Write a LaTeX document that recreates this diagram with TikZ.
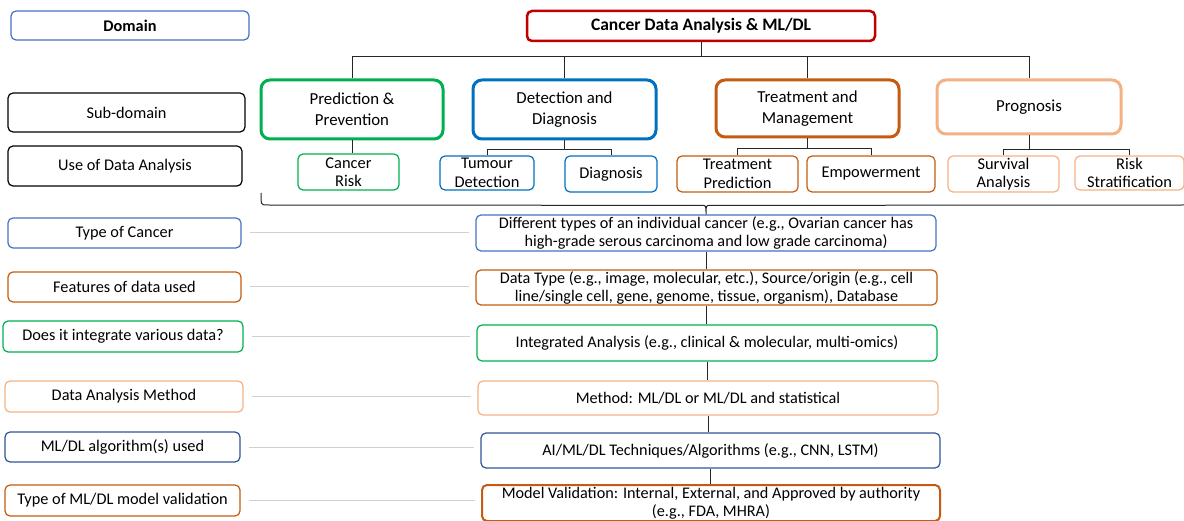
\documentclass[tikz,border=0pt]{standalone}
\usepackage{fontspec}
\setmainfont{Carlito}
\usepackage{tikz}
\usetikzlibrary{positioning,calc}

\definecolor{rootred}{HTML}{C00000}
\definecolor{grn}{HTML}{00B050}
\definecolor{blu}{HTML}{0070C0}
\definecolor{slate}{HTML}{4472C4}
\definecolor{dkblu}{HTML}{2F5597}
\definecolor{orng}{HTML}{C55A11}
\definecolor{peach}{HTML}{F4B183}

\begin{document}
\begin{tikzpicture}[
    x=1pt, y=-1pt,
    lbl/.style={rectangle, draw, rounded corners=5pt, line width=1.2pt, align=center, inner sep=1pt,
        font=\fontsize{16.3}{19}\selectfont},
    subbox/.style={rectangle, draw, rounded corners=9pt, line width=3pt, align=center, inner sep=1pt,
        font=\fontsize{16.8}{21}\selectfont},
    usebox/.style={rectangle, draw, rounded corners=5pt, line width=1.2pt, align=center, inner sep=0pt,
        font=\fontsize{16.4}{18.5}\selectfont},
    info/.style={rectangle, draw, rounded corners=5pt, line width=1.2pt, align=center, inner sep=0pt,
        font=\fontsize{16.2}{18}\selectfont},
    conn/.style={draw=black!85, line width=1pt},
    guide/.style={draw=black!18, line width=1pt}
]
    \useasboundingbox (0,0) rectangle (1184,521);

    % Left column
    \node[lbl, draw=slate, minimum width=238pt, minimum height=29pt, font=\fontsize{16.3}{19}\selectfont\bfseries] (domain) at (130,25.5) {Domain};
    \node[lbl, draw=black, minimum width=237pt, minimum height=39pt] (subdom) at (126.5,112.5) {Sub-domain};
    \node[lbl, draw=black, minimum width=234pt, minimum height=40pt] (usedata) at (125,166) {Use of Data Analysis};
    \node[lbl, draw=slate, minimum width=233pt, minimum height=30pt] (typecancer) at (124.5,233) {Type of Cancer};
    \node[lbl, draw=orng, minimum width=233pt, minimum height=30pt] (features) at (124.5,287) {Features of data used};
    \node[lbl, draw=grn, minimum width=240pt, minimum height=31pt] (integrate) at (123,336.5) {Does it integrate various data?};
    \node[lbl, draw=peach, minimum width=238pt, minimum height=31pt] (anamethod) at (124,396.5) {Data Analysis Method};
    \node[lbl, draw=dkblu, minimum width=235pt, minimum height=30pt] (algo) at (122.5,447) {ML/DL algorithm(s) used};
    \node[lbl, draw=orng, minimum width=235pt, minimum height=31pt] (valtype) at (122.5,500.5) {Type of ML/DL model validation};

    % Domain
    \node[lbl, draw=rootred, line width=2.5pt, minimum width=348pt, minimum height=30pt, font=\fontsize{17.5}{20}\selectfont\bfseries] (root) at (701,26) {Cancer Data Analysis \& ML/DL};

    % Sub-domains
    \node[subbox, draw=grn, minimum width=182pt, minimum height=59pt] (predprev) at (352,109.5) {Prediction \&\\Prevention};
    \node[subbox, draw=blu, minimum width=183pt, minimum height=59pt] (detdiag) at (564.5,109.5) {Detection and\\Diagnosis};
    \node[subbox, draw=orng, minimum width=183pt, minimum height=57pt] (treatmgmt) at (807.5,108.5) {Treatment and\\Management};
    \node[subbox, draw=peach, minimum width=184pt, minimum height=54pt] (prognosis) at (1029,107) {Prognosis};

    % Use of data analysis
    \node[usebox, draw=grn, minimum width=101pt, minimum height=36pt] (cancerrisk) at (348.5,172) {Cancer\\Risk};
    \node[usebox, draw=blu, minimum width=94pt, minimum height=34pt] (tumourdet) at (487,173) {Tumour\\Detection};
    \node[usebox, draw=blu, minimum width=92pt, minimum height=36pt] (diagnosis) at (611,174) {Diagnosis};
    \node[usebox, draw=orng, minimum width=121pt, minimum height=36pt] (treatpred) at (737.5,174) {Treatment\\Prediction};
    \node[usebox, draw=orng, minimum width=128pt, minimum height=36pt] (empower) at (871,174) {Empowerment};
    \node[usebox, draw=peach, minimum width=111pt, minimum height=36pt] (survival) at (1003.5,174) {Survival\\Analysis};
    \node[usebox, draw=peach, minimum width=109pt, minimum height=34pt] (riskstrat) at (1129.5,173) {Risk\\Stratification};

    % Details
    \node[info, draw=slate, minimum width=460pt, minimum height=36pt] (types) at (706,233) {Different types of an individual cancer (e.g., Ovarian cancer has\\high-grade serous carcinoma and low grade carcinoma)};
    \node[info, draw=orng, minimum width=461pt, minimum height=35pt] (datatype) at (706.5,287.5) {Data Type (e.g., image, molecular, etc.), Source/origin (e.g., cell\\line/single cell, gene, genome, tissue, organism), Database};
    \node[info, draw=grn, minimum width=460pt, minimum height=36pt] (integrated) at (707,343) {Integrated Analysis (e.g., clinical \& molecular, multi-omics)};
    \node[info, draw=peach, minimum width=460pt, minimum height=34pt] (methodml) at (708,398) {Method: ML/DL or ML/DL and statistical};
    \node[info, draw=dkblu, minimum width=459pt, minimum height=35pt] (techniques) at (710.5,450.5) {AI/ML/DL Techniques/Algorithms (e.g., CNN, LSTM)};
    \node[info, draw=orng, line width=2pt, minimum width=458pt, minimum height=36pt] (validation) at (711,503) {Model Validation: Internal, External, and Approved by authority\\(e.g., FDA, MHRA)};

    % Tree lines
    \coordinate (hub) at (701,57);
    \draw[conn] (root) -- (hub);
    \draw[conn] (hub) -| (predprev);
    \draw[conn] (hub) -| (detdiag);
    \draw[conn] (hub) -| (treatmgmt);
    \draw[conn] (hub) -| (prognosis);

    \draw[conn] (predprev.south) -- (predprev.south |- cancerrisk.north);
    \draw[conn] (detdiag.south) -- ++(0,9) -| (tumourdet);
    \draw[conn] (detdiag.south) -- ++(0,9) -| (diagnosis);
    \draw[conn] (treatmgmt.south) -- ++(0,10) -| (treatpred);
    \draw[conn] (treatmgmt.south) -- ++(0,10) -| (empower);
    \draw[conn] (prognosis.south) -- ++(0,14) -| (survival);
    \draw[conn] (prognosis.south) -- ++(0,14) -| (riskstrat);

    % Brace
    \coordinate (bl) at (261,193);
    \coordinate (br) at (1184,205);
    \draw[conn] (bl) .. controls (261,205) .. (267,205) -- ($(types.north)+(-4,-9)$)
        .. controls ($(types.north)+(0,-9)$) .. (types.north)
        .. controls ($(types.north)+(0,-9)$) .. ($(types.north)+(4,-9)$) -- (br);

    % Chain
    \draw[conn] (types.south) -- (types.south |- datatype.north);
    \draw[conn] (datatype.south) -- (datatype.south |- integrated.north);
    \draw[conn] (integrated.south) -- (integrated.south |- methodml.north);
    \draw[conn] (methodml.south) -- (methodml.south |- techniques.north);
    \draw[conn] (techniques.south) -- (techniques.south |- validation.north);

    % Guides
    \draw[guide, shorten <=8pt, shorten >=6pt] (typecancer.east) -- (typecancer.east -| types.west);
    \draw[guide, shorten <=8pt, shorten >=6pt] (features.east) -- (features.east -| datatype.west);
    \draw[guide, shorten <=8pt, shorten >=6pt] (integrate.east) -- (integrate.east -| integrated.west);
    \draw[guide, shorten <=8pt, shorten >=6pt] (anamethod.east) -- (anamethod.east -| methodml.west);
    \draw[guide, shorten <=8pt, shorten >=6pt] (algo.east) -- (algo.east -| techniques.west);
    \draw[guide, shorten <=8pt, shorten >=6pt] (valtype.east) -- (valtype.east -| validation.west);
\end{tikzpicture}
\end{document}
